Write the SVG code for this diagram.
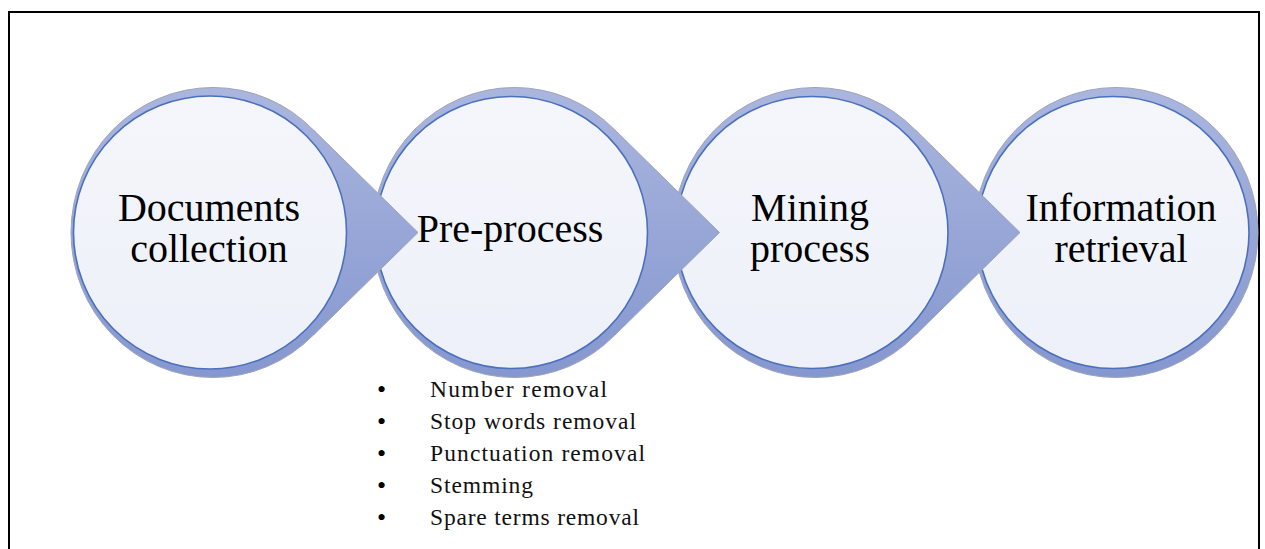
<svg xmlns="http://www.w3.org/2000/svg" width="1265" height="549" viewBox="0 0 1265 549">
<defs>
<linearGradient id="halo" gradientUnits="userSpaceOnUse" x1="0" y1="87" x2="0" y2="378">
<stop offset="0" stop-color="#aab6de"/>
<stop offset="1" stop-color="#8597cf"/>
</linearGradient>
<linearGradient id="inner" x1="0" y1="0" x2="0" y2="1">
<stop offset="0" stop-color="#f4f6fb"/>
<stop offset="1" stop-color="#edf0f8"/>
</linearGradient>
<style>
.halo{fill:url(#halo);stroke:#9fa4b8;stroke-width:1}
.arrow{fill:url(#halo);stroke:none}
.edge{fill:none;stroke:#9fa4b8;stroke-width:1}
.inner{fill:url(#inner);stroke:#4a70bf;stroke-width:1.6}
.lbl{font-family:"Liberation Serif","Times New Roman",serif;font-size:40px;fill:#000;text-anchor:middle}
.item{font-family:"Liberation Serif","Times New Roman",serif;font-size:23.5px;fill:#111}
.bul{font-family:"Liberation Serif","Times New Roman",serif;font-size:26px;fill:#000}
</style>
</defs>
<rect x="9" y="12" width="1250" height="560" fill="#fff" stroke="#000" stroke-width="2"/>

<g id="node4">
<ellipse class="halo" cx="1116" cy="232.5" rx="142" ry="145"/>
<circle class="inner" cx="1113" cy="232.5" r="136"/>
<text class="lbl" x="1121" y="221">Information</text>
<text class="lbl" x="1121" y="262">retrieval</text>
</g>
<g id="node3">
<ellipse class="halo" cx="815" cy="232.5" rx="142" ry="145"/>
<circle class="inner" cx="812" cy="232.5" r="136"/>
<text class="lbl" x="810" y="221">Mining</text>
<text class="lbl" x="810" y="262">process</text>
</g>
<g id="node2">
<ellipse class="halo" cx="514.5" cy="232.5" rx="142" ry="145"/>
<circle class="inner" cx="511.5" cy="232.5" r="136"/>
<text class="lbl" x="510" y="242">Pre-process</text>
</g>
<g id="node1">
<ellipse class="halo" cx="213" cy="232.5" rx="142" ry="145"/>
<circle class="inner" cx="210" cy="232.5" r="136.5"/>
<text class="lbl" x="209" y="221">Documents</text>
<text class="lbl" x="209" y="262">collection</text>
</g>

<g id="connectors">
<g transform="translate(210,0)">
<path class="arrow" d="M103.5,130 L208,232.5 L103.5,335 L101,332.5 A140,140 0 0 0 101,132.5 Z"/>
<path class="edge" d="M103.5,130 L208,232.5 L103.5,335"/>
</g>
<g transform="translate(511.5,0)">
<path class="arrow" d="M103.5,130 L208,232.5 L103.5,335 L101,332.5 A140,140 0 0 0 101,132.5 Z"/>
<path class="edge" d="M103.5,130 L208,232.5 L103.5,335"/>
</g>
<g transform="translate(812,0)">
<path class="arrow" d="M103.5,130 L208,232.5 L103.5,335 L101,332.5 A140,140 0 0 0 101,132.5 Z"/>
<path class="edge" d="M103.5,130 L208,232.5 L103.5,335"/>
</g>
</g>

<g id="steps">
<text class="bul" x="377" y="398">•</text>
<text class="item" x="430" y="397" textLength="177" lengthAdjust="spacing">Number removal</text>
<text class="bul" x="377" y="430">•</text>
<text class="item" x="430" y="429" textLength="206" lengthAdjust="spacing">Stop words removal</text>
<text class="bul" x="377" y="462">•</text>
<text class="item" x="430" y="461" textLength="215" lengthAdjust="spacing">Punctuation removal</text>
<text class="bul" x="377" y="494">•</text>
<text class="item" x="430" y="493" textLength="103" lengthAdjust="spacing">Stemming</text>
<text class="bul" x="377" y="526">•</text>
<text class="item" x="430" y="525" textLength="209" lengthAdjust="spacing">Spare terms removal</text>
</g>
</svg>
